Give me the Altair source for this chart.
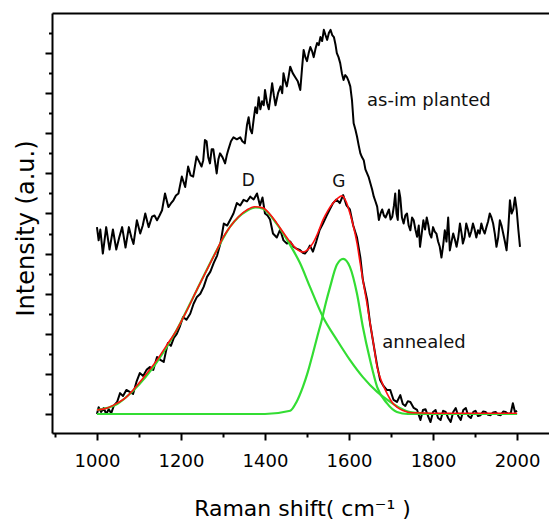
import altair as alt
import pandas as pd

# ---------------- data ----------------
ann_x = [1000, 1004, 1010, 1016, 1022, 1028, 1034, 1040, 1048, 1055,
         1062, 1070, 1078, 1086, 1094, 1102, 1110, 1118, 1126, 1134,
         1143, 1151, 1159, 1164, 1169, 1176, 1183, 1190, 1198, 1205,
         1213, 1222, 1230, 1238, 1246, 1254, 1262, 1270, 1278, 1286,
         1294, 1302, 1310, 1317, 1325, 1333, 1341, 1349, 1357, 1365,
         1373, 1381, 1388, 1394, 1400, 1406, 1412, 1419, 1428, 1436,
         1444, 1452, 1460, 1468, 1475, 1483, 1490, 1495, 1501, 1507,
         1514, 1522, 1530, 1538, 1546, 1554, 1562, 1570, 1578, 1586,
         1594, 1602, 1610, 1619, 1627, 1633, 1643, 1650, 1659, 1667,
         1674, 1682, 1690, 1698, 1706, 1714, 1722, 1728, 1734, 1740,
         1746, 1754, 1762, 1770, 1776, 1782, 1788, 1794, 1800, 1806,
         1812, 1818, 1824, 1830, 1836, 1842, 1848, 1854, 1860, 1866,
         1872, 1878, 1884, 1890, 1896, 1901, 1907, 1913, 1919, 1925,
         1931, 1937, 1943, 1949, 1955, 1961, 1967, 1973, 1979, 1985,
         1990, 1995, 2000]
ann_y = [0.0, 0.17, 0.05, 0.15, 0.0, 0.12, 0.02, 0.2, 0.3, 0.52,
         0.45, 0.6, 0.55, 0.5, 0.8, 1.02, 0.95, 1.1, 1.17, 1.1,
         1.42, 1.35, 1.3, 1.55, 1.77, 1.7, 1.9, 2.0, 2.2, 2.42,
         2.35, 2.5, 2.75, 2.92, 3.0, 3.17, 3.42, 3.55, 3.77, 3.95,
         4.26, 4.75, 4.7, 4.84, 5.0, 5.26, 5.2, 5.34, 5.3, 5.42,
         5.35, 5.5, 5.2, 5.4, 5.0, 4.95, 4.85, 4.5, 4.4, 4.6,
         4.33, 4.25, 4.3, 4.17, 4.12, 4.09, 4.02, 4.0, 4.08, 4.2,
         4.05, 4.3, 4.59, 4.75, 4.93, 5.1, 5.26, 5.35, 5.26, 5.46,
         5.2, 5.1, 4.7, 4.4, 3.9, 3.34, 2.85, 2.27, 1.7, 1.2,
         0.85, 0.7, 0.6, 0.6, 0.35, 0.3, 0.47, 0.25, 0.2, 0.32,
         0.3, 0.15, 0.1, -0.15, 0.1, 0.12, -0.05, -0.2, 0.05, 0.1,
         -0.1, -0.15, 0.08, 0.05, -0.1, -0.2, 0.05, 0.15, -0.05, -0.15,
         0.1, 0.15, -0.05, -0.1, 0.05, 0.08, -0.05, -0.03, 0.06, 0.05,
         -0.02, -0.03, 0.04, 0.05, -0.02, -0.03, 0.06, 0.05, 0.0, 0.02,
         0.27, 0.05, 0.08]

imp_x = [1000, 1004, 1008, 1014, 1022, 1030, 1038, 1046, 1053, 1060,
         1068, 1076, 1082, 1087, 1095, 1103, 1109, 1115, 1123, 1131,
         1137, 1143, 1149, 1155, 1162, 1170, 1176, 1182, 1188, 1194,
         1202, 1210, 1217, 1223, 1229, 1237, 1243, 1249, 1253, 1257,
         1261, 1265, 1269, 1273, 1277, 1281, 1285, 1289, 1293, 1299,
         1305, 1309, 1313, 1319, 1325, 1333, 1341, 1346, 1352, 1357,
         1361, 1365, 1369, 1373, 1377, 1381, 1385, 1389, 1393, 1397,
         1400, 1405, 1409, 1413, 1417, 1421, 1425, 1431, 1437, 1441,
         1444, 1448, 1452, 1456, 1460, 1466, 1472, 1478, 1484, 1488,
         1492, 1496, 1500, 1504, 1508, 1512, 1516, 1520, 1524, 1528,
         1532, 1536, 1540, 1544, 1548, 1552, 1556, 1560, 1564, 1568,
         1571, 1575, 1579, 1583, 1587, 1591, 1595, 1599, 1603, 1607,
         1611, 1615, 1619, 1623, 1627, 1631, 1635, 1639, 1643, 1647,
         1651, 1655, 1659, 1663, 1667, 1671, 1675, 1679, 1683, 1687,
         1691, 1695, 1699, 1703, 1707, 1710, 1713, 1716, 1719, 1722,
         1726, 1730, 1734, 1738, 1742, 1746, 1750, 1754, 1758, 1762,
         1766, 1769, 1773, 1777, 1781, 1785, 1789, 1792, 1796, 1800,
         1804, 1808, 1812, 1816, 1820, 1824, 1828, 1832, 1836, 1840,
         1844, 1848, 1852, 1856, 1860, 1864, 1868, 1871, 1875, 1879,
         1883, 1887, 1891, 1895, 1899, 1903, 1907, 1911, 1915, 1919,
         1923, 1927, 1931, 1935, 1939, 1943, 1947, 1951, 1955, 1959,
         1963, 1967, 1971, 1975, 1979, 1983, 1987, 1991, 1995, 1999,
         2003, 2007]
imp_y = [4.66, 4.33, 4.6, 4.0, 4.66, 4.1, 4.6, 4.1, 4.4, 4.66,
         4.15, 4.66, 4.4, 4.24, 4.83, 4.5, 4.7, 5.0, 4.66, 4.92,
         4.95, 4.83, 4.95, 5.08, 5.5, 5.16, 5.25, 5.33, 5.45, 5.5,
         5.92, 5.66, 6.17, 5.95, 5.92, 6.42, 6.3, 6.17, 6.33, 6.83,
         6.8, 6.4, 6.25, 6.6, 6.6, 6.3, 6.0, 6.35, 6.5, 6.4,
         6.25, 6.45, 6.6, 6.8, 6.9, 6.85, 6.9, 6.8, 6.75, 7.2,
         7.4, 7.1, 7.0, 7.35, 7.65, 7.5, 7.9, 7.6, 7.8, 7.7,
         8.08, 7.75, 7.6, 7.9, 8.25, 7.95, 7.7, 8.0, 8.17, 8.0,
         8.5, 8.3, 8.17, 8.4, 8.66, 8.5, 8.4, 8.3, 8.08, 8.6,
         9.08, 8.9, 8.8, 9.0, 9.15, 9.05, 8.9, 9.1, 9.25, 9.2,
         9.4, 9.3, 9.58, 9.45, 9.33, 9.5, 9.58, 9.45, 9.4, 9.2,
         9.0, 8.9, 8.75, 8.5, 8.33, 8.45, 8.4, 8.3, 8.17, 7.83,
         7.25, 7.1, 6.92, 6.7, 6.5, 6.4, 6.33, 6.1, 6.0, 5.9,
         5.75, 5.6, 5.42, 5.3, 5.17, 4.84, 5.0, 5.1, 4.95, 4.9,
         5.0, 5.1, 4.85, 4.92, 5.2, 5.5, 5.0, 4.84, 5.58, 5.4,
         4.9, 4.75, 4.95, 5.0, 4.7, 4.58, 4.9, 4.83, 4.6, 4.42,
         4.7, 4.17, 4.5, 4.83, 4.6, 4.9, 4.7, 4.5, 4.4, 4.66,
         4.55, 4.5, 4.3, 4.17, 3.9, 4.2, 4.58, 4.3, 4.9, 4.08,
         4.3, 4.5, 4.35, 4.17, 4.4, 4.75, 4.5, 4.25, 4.4, 4.75,
         4.6, 4.42, 4.55, 4.75, 4.6, 4.4, 4.58, 4.5, 4.75, 4.6,
         4.5, 4.66, 4.8, 5.0, 4.9, 4.75, 4.5, 4.17, 4.4, 4.83,
         4.7, 4.5, 4.3, 4.08, 4.6, 5.33, 5.0, 5.1, 5.4, 5.1,
         4.6, 4.17]

fit_x = [1000, 1025, 1048, 1070, 1086, 1110, 1143, 1165, 1190, 1215,
         1238, 1262, 1286, 1300, 1317, 1337, 1357, 1375, 1395, 1412,
         1428, 1444, 1460, 1475, 1490, 1502, 1514, 1526, 1538, 1550,
         1562, 1573, 1583, 1593, 1602, 1610, 1619, 1626, 1633, 1642,
         1650, 1659, 1667, 1678, 1690, 1702, 1714, 1730, 1750, 1800,
         1900, 2000]
fit_y = [0.1, 0.15, 0.27, 0.42, 0.6, 0.9, 1.35, 1.7, 2.1, 2.6,
         3.1, 3.6, 4.1, 4.4, 4.67, 4.92, 5.09, 5.17, 5.14, 4.98,
         4.76, 4.52, 4.29, 4.12, 4.04, 4.1, 4.26, 4.52, 4.84, 5.08,
         5.26, 5.38, 5.44, 5.3, 5.01, 4.7, 4.26, 3.8, 3.34, 2.8,
         2.27, 1.7, 1.17, 0.8, 0.52, 0.3, 0.17, 0.08, 0.03, 0.02,
         0.02, 0.02]

d_x = [1000, 1048, 1086, 1143, 1190, 1238, 1286, 1317, 1357, 1378,
       1395, 1428, 1460, 1483, 1507, 1538, 1571, 1602, 1633, 1667,
       1698, 1721, 1745, 1800, 1900, 2000]
d_y = [0.1, 0.25, 0.58, 1.3, 2.1, 3.1, 4.1, 4.67, 5.07, 5.15,
       5.12, 4.74, 4.21, 3.77, 3.17, 2.42, 1.85, 1.35, 0.92, 0.55,
       0.3, 0.15, 0.05, 0.0, 0.0, 0.0]

g_x = [1000, 1400, 1460, 1475, 1490, 1502, 1514, 1525, 1535, 1545,
       1555, 1571, 1586, 1602, 1619, 1633, 1650, 1667, 1690, 1714,
       1740, 2000]
g_y = [0.0, 0.0, 0.08, 0.3, 0.67, 1.05, 1.51, 1.95, 2.34, 2.78,
       3.17, 3.72, 3.87, 3.67, 3.0, 2.17, 1.35, 0.67, 0.27, 0.05,
       0.0, 0.0]

peak_labels = ["D", "G"]
peak_x = [1360, 1576]
peak_y = [5.82, 5.78]

curve_labels = ["as-im planted", "annealed"]
curve_x = [1643, 1679]
curve_y = [7.81, 1.77]

x_tick_values = [900, 1000, 1100, 1200, 1300, 1400, 1500, 1600, 1700, 1800, 1900, 2000]
y_tick_values = [0, 0.5, 1, 1.5, 2, 2.5, 3, 3.5, 4, 4.5, 5, 5.5, 6, 6.5, 7, 7.5, 8, 8.5, 9, 9.5]

X_DOMAIN = [893, 2076]
Y_DOMAIN = [-0.474, 10.0]

# ---------------- chart ----------------
FONT = "DejaVu Sans"
xs = alt.Scale(domain=X_DOMAIN, nice=False, zero=False)
ys = alt.Scale(domain=Y_DOMAIN, nice=False, zero=False)

x_axis = alt.Axis(
    orient="bottom", values=x_tick_values, format="d",
    labelExpr="datum.value % 200 === 0 ? datum.label : ''",
    tickSize={"condition": {"test": "datum.value % 200 === 0", "value": 7}, "value": 4},
    tickWidth=2, tickColor="black", domainColor="black", domainWidth=2,
    labelFont=FONT, labelFontSize=18, labelColor="black", labelPadding=12,
    labelOverlap=False, labelFlush=False, grid=False,
    title="Raman shift( cm⁻¹ )", titleFont=FONT, titleFontSize=22,
    titleFontWeight="normal", titleColor="black",
    titleX=250, titleY=82, titleBaseline="alphabetic", titleAlign="center",
)
y_axis = alt.Axis(
    orient="left", values=y_tick_values, labels=False,
    tickSize={"condition": {"test": "datum.value % 1 === 0", "value": 7}, "value": 3.5},
    tickWidth=2, tickColor="black", domainColor="black", domainWidth=2, grid=False,
    title="Intensity (a.u.)", titleFont=FONT, titleFontSize=24,
    titleFontWeight="normal", titleColor="black", titleAngle=270,
    titleX=-19, titleY=215, titleBaseline="alphabetic", titleAlign="center",
)
top_axis = alt.Axis(orient="top", labels=False, ticks=False, domainColor="black",
                    domainWidth=2, grid=False, title="")

X = alt.X("x:Q", scale=xs, axis=x_axis)
Y = alt.Y("y:Q", scale=ys, axis=y_axis)


def frame(xv, yv):
    return pd.DataFrame({"x": xv, "y": yv})


implanted = alt.Chart(frame(imp_x, imp_y)).mark_line(
    color="black", strokeWidth=2, strokeJoin="round").encode(x=X, y=Y, order="x:Q")
annealed = alt.Chart(frame(ann_x, ann_y)).mark_line(
    color="black", strokeWidth=2, strokeJoin="round").encode(x=X, y=Y, order="x:Q")
comp_d = alt.Chart(frame(d_x, d_y)).mark_line(
    color="#33dd33", strokeWidth=2.2, interpolate="monotone").encode(x=X, y=Y)
comp_g = alt.Chart(frame(g_x, g_y)).mark_line(
    color="#33dd33", strokeWidth=2.2, interpolate="monotone").encode(x=X, y=Y)

peaks = alt.Chart(pd.DataFrame({"x": peak_x, "y": peak_y, "t": peak_labels})).mark_text(
    font=FONT, fontSize=17, color="#111111", align="center", baseline="middle"
).encode(x=X, y=Y, text="t:N")
names = alt.Chart(pd.DataFrame({"x": curve_x, "y": curve_y, "t": curve_labels})).mark_text(
    font=FONT, fontSize=18, color="#111111", align="left", baseline="middle"
).encode(x=X, y=Y, text="t:N")

base = alt.layer(implanted, annealed, comp_d, comp_g, peaks, names)

fit = alt.Chart(frame(fit_x, fit_y)).mark_line(
    color="#ff1010", strokeWidth=1.6, interpolate="monotone"
).encode(x=alt.X("x:Q", scale=xs, axis=top_axis), y=Y)

chart = alt.layer(base, fit).resolve_axis(x="independent").properties(
    width=497, height=420,
    autosize=alt.AutoSizeParams(type="none"),
    padding={"left": 52, "top": 13, "right": 0, "bottom": 88},
    background="white",
).configure_view(stroke=None)

chart.save("out.html", embed_options={"renderer": "svg", "actions": False})
